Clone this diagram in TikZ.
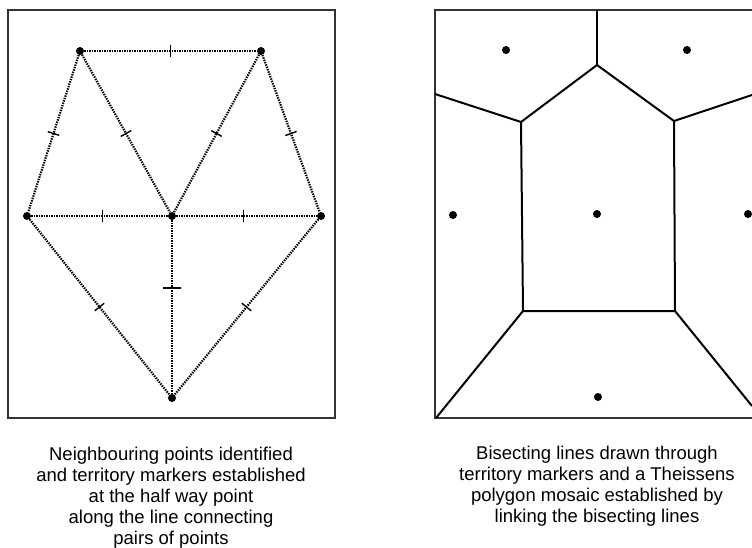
\documentclass[tikz,border=0pt]{standalone}
\usepackage{fontspec}
\setmainfont{Liberation Sans}
\begin{document}
\begin{tikzpicture}[x=1pt,y=-1pt,
  pt/.style={circle,fill=black,inner sep=0pt,minimum size=8pt},
  dotline/.style={line width=2.2pt,dash pattern=on 1.4pt off 1.1pt,black},
  tickmark/.style={draw=black,solid,line width=1.4pt,shape=rectangle,inner sep=0pt,minimum width=0pt,minimum height=12pt,sloped},
  longtick/.style={tickmark,minimum height=18pt},
  frame/.style={line width=1.4pt,black!80},
  cell/.style={line width=2pt,black},
  caption/.style={align=center,font=\fontsize{18.5}{21}\selectfont,inner sep=0pt}]
\useasboundingbox (0,0) rectangle (752,548);

% ---------- left panel ----------
\draw[frame] (8,10) rectangle (335,418);
\node[pt] (A) at (80,51) {};
\node[pt] (B) at (261,51) {};
\node[pt] (C) at (27,216) {};
\node[pt] (D) at (172,216) {};
\node[pt] (E) at (321,216) {};
\node[pt] (F) at (172,398) {};

\draw[dotline] (A) -- node[tickmark,pos=.5]{} (B);
\draw[dotline] (A) -- node[tickmark,pos=.5]{} (C);
\draw[dotline] (A) -- node[tickmark,pos=.5]{} (D);
\draw[dotline] (B) -- node[tickmark,pos=.5]{} (D);
\draw[dotline] (B) -- node[tickmark,pos=.5]{} (E);
\draw[dotline] (C) -- node[tickmark,pos=.52]{} (D);
\draw[dotline] (D) -- node[tickmark,pos=.48]{} (E);
\draw[dotline] (C) -- node[tickmark,pos=.5]{} (F);
\draw[dotline] (E) -- node[tickmark,pos=.5]{} (F);
\draw[dotline] (D) -- node[longtick,pos=.39]{} (F);

% ---------- right panel ----------
\draw[frame] (752,10) -- (435,10) -- (435,418) -- (752,418);
\node[pt] (P1) at (506,50) {};
\node[pt] (P2) at (687,50) {};
\node[pt] (P3) at (453,215) {};
\node[pt] (P4) at (597,214) {};
\node[pt] (P5) at (748,214) {};
\node[pt] (P6) at (598,397) {};

\coordinate (v0) at (597,10);
\coordinate (v1) at (597,65);
\coordinate (v2) at (521,122);
\coordinate (v3) at (674,121);
\coordinate (lt) at (435,94);
\coordinate (rt) at (752,95);
\coordinate (v4) at (523,311);
\coordinate (v5) at (675,311);
\coordinate (bl) at (436,418);
\coordinate (br) at (752,406);

\draw[cell] (v0) -- (v1);
\draw[cell] (lt) -- (v2) -- (v1) -- (v3) -- (rt);
\draw[cell] (v2) -- (v4) -- (v5) -- (v3);
\draw[cell] (bl) -- (v4);
\draw[cell] (v5) -- (br);

% ---------- captions ----------
\node[caption,anchor=north] (capL) at (171,447) {Neighbouring points identified\\and territory markers established\\at the half way point\\along the line connecting\\pairs of points};
\node[caption,anchor=north] (capR) at (597,446) {Bisecting lines drawn through\\territory markers and a Theissens\\polygon mosaic established by\\linking the bisecting lines};
\end{tikzpicture}
\end{document}
